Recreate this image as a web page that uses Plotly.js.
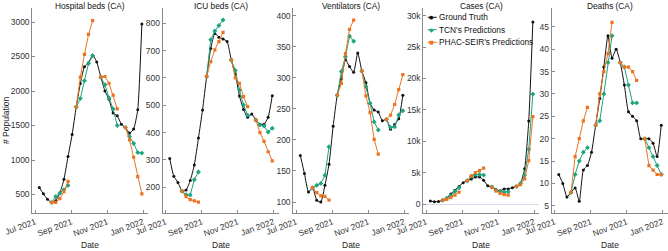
<!DOCTYPE html>
<html><head><meta charset="utf-8">
<script src="https://cdn.plot.ly/plotly-3.0.1.min.js"></script>
<style>html,body{margin:0;padding:0;background:#fff;} #chart{width:668px;height:251px;}</style>
</head><body><div id="chart"></div>
<script>
// ---- data ----
const dates = ['2021-07-08','2021-07-15','2021-07-22','2021-07-29','2021-08-05','2021-08-12','2021-08-19','2021-08-26',
  '2021-09-02','2021-09-09','2021-09-16','2021-09-23','2021-09-30','2021-10-07','2021-10-14','2021-10-21',
  '2021-10-28','2021-11-04','2021-11-11','2021-11-18','2021-11-25','2021-12-02','2021-12-09','2021-12-16',
  '2021-12-23','2021-12-30'];

const hospGT   = [600,510,430,385,410,520,720,1050,1370,1770,2110,2350,2410,2520,2420,2200,2000,1880,1680,1640,1520,1470,1390,1450,1730,2970];
const hospTCN  = [null,null,null,385,470,520,570,630,null,1770,1890,2150,2400,2510,null,2200,2090,1900,1740,1500,null,1470,1340,1240,1110,1100];
const hospPHAC = [null,null,null,385,385,440,540,690,null,1770,2200,2530,2820,3020,null,2200,2210,2110,1940,1740,null,1470,1290,1040,760,510];

const icuGT   = [305,240,218,186,190,225,282,380,483,605,708,763,749,743,733,666,615,534,485,456,468,446,431,431,456,535];
const icuTCN  = [null,null,null,186,173,172,228,256,null,605,740,772,792,812,null,666,627,556,501,464,null,446,428,424,402,416];
const icuPHAC = [null,null,null,186,166,155,150,146,null,605,660,703,733,767,null,666,600,580,532,495,null,446,400,368,330,297];

const ventGT   = [175,146,116,123,103,100,127,161,222,272,298,329,318,309,340,311,292,259,248,245,231,233,217,225,234,272];
const ventTCN  = [null,null,null,123,127,130,143,189,null,272,310,334,367,359,null,311,286,259,229,216,null,233,220,221,240,247];
const ventPHAC = [null,null,null,123,115,110,109,103,null,272,291,339,378,393,null,311,271,244,201,177,null,233,240,257,281,305];

const casesGT   = [480,370,380,600,950,1600,2200,2800,3400,3700,4000,4300,4300,3800,2900,2700,2300,2100,2400,2400,2600,2800,3300,5600,13200,29000];
const casesTCN  = [null,null,null,600,900,1300,2000,2600,null,3700,4400,4700,4700,4600,null,2700,2200,2000,1900,1950,null,2800,3300,4600,8700,17500];
const casesPHAC = [null,null,null,600,750,1000,1400,1900,null,3700,4500,5000,5300,5700,null,2700,2100,1700,1500,1400,null,2800,3100,4000,6900,13900];

const deathsGT   = [12,10,7,8,9,6,13,14,17,23,29,36,43,38,40,37,32,26,25,24,20,20,20,19,16,23];
const deathsTCN  = [null,null,null,8,12,15,17,18,null,23,24,30,37,43,null,37,36,32,28,28,null,20,18,16,14,12];
const deathsPHAC = [null,null,null,8,16,20,24,27,null,23,30,35,39,46,null,37,36,36,35,33,null,20,14,13,12,12];

const titles = ['Hospital beds (CA)','ICU beds (CA)','Ventilators (CA)','Cases (CA)','Deaths (CA)'];
const seriesNames = ['Ground Truth',"TCN's Predictions","PHAC-SEIR's Predictions"];
const xTickVals = ['2021-07-01','2021-09-01','2021-11-01','2022-01-01'];
const xTickText = ['Jul 2021','Sep 2021','Nov 2021','Jan 2022'];
const hospTicks = [500,1000,1500,2000,2500,3000];
const icuTicks = [200,300,400,500,600,700,800];
const ventTicks = [100,150,200,250,300,350,400];
const casesTicks = [0,5000,10000,15000,20000,25000,30000];
const casesTickText = ['0','5k','10k','15k','20k','25k','30k'];
const deathsTicks = [5,10,15,20,25,30,35,40,45];

// ---- layout / style ----
const W = 668, H = 251;
const FONT = 'Liberation Sans, Arial, sans-serif';
const colGT = '#111111', colTCN = '#1fa47f', colPHAC = '#ee7320';
const panelLeft = [32.3, 162.7, 293.3, 423.3, 551.7];
const panelW = 116;
const plotTop = 8, plotBottom = 213;
const yRanges = [[232,3203],[106,856],[82.3,412.4],[-1433,31210],[3.4,49.2]];
const xRange = ['2021-06-26','2022-01-10'];

const panels = [
  [hospGT, hospTCN, hospPHAC, hospTicks, null],
  [icuGT, icuTCN, icuPHAC, icuTicks, null],
  [ventGT, ventTCN, ventPHAC, ventTicks, null],
  [casesGT, casesTCN, casesPHAC, casesTicks, casesTickText],
  [deathsGT, deathsTCN, deathsPHAC, deathsTicks, null]
];

const traces = [];
const layout = {
  width: W, height: H, margin: {l:0, r:0, t:0, b:0},
  paper_bgcolor: '#fff', plot_bgcolor: '#fff',
  showlegend: false,
  font: {family: FONT, size: 8.5, color: '#222'},
  annotations: [], shapes: []
};

panels.forEach((p, k) => {
  const n = k + 1;
  const xa = 'x' + (n === 1 ? '' : n), ya = 'y' + (n === 1 ? '' : n);
  const styles = [
    {color: colGT, sym: 'circle', size: 3, shape: 'spline'},
    {color: colTCN, sym: 'diamond', size: 3.8, shape: 'linear'},
    {color: colPHAC, sym: 'square', size: 3.2, shape: 'linear'}
  ];
  [p[0], p[1], p[2]].forEach((vals, s) => {
    traces.push({
      type: 'scatter', mode: 'lines+markers', x: dates, y: vals, xaxis: xa, yaxis: ya,
      name: seriesNames[s], connectgaps: false, hoverinfo: 'skip',
      line: {color: styles[s].color, width: 1, shape: styles[s].shape, smoothing: 0.5},
      marker: {color: styles[s].color, symbol: styles[s].sym, size: styles[s].size}
    });
  });
  const d0 = panelLeft[k] / W, d1 = (panelLeft[k] + panelW) / W;
  layout['xaxis' + (n === 1 ? '' : n)] = {
    domain: [d0, Math.min(d1, 1)], anchor: ya, type: 'date', range: xRange,
    tickmode: 'array', tickvals: xTickVals, ticktext: xTickText, tickangle: -20,
    showline: true, linecolor: '#8a8a8a', linewidth: 1, ticks: 'inside', ticklen: 3, tickcolor: '#8a8a8a',
    showgrid: false, zeroline: false, tickfont: {family: FONT, size: 8.5, color: '#333'}
  };
  const yax = {
    domain: [1 - plotBottom / H, 1 - plotTop / H], anchor: xa, range: yRanges[k],
    tickmode: 'array', tickvals: p[3],
    showline: true, linecolor: '#8a8a8a', linewidth: 1, ticks: 'inside', ticklen: 3, tickcolor: '#8a8a8a',
    showgrid: false, zeroline: k === 3, zerolinecolor: '#dcdcf0', zerolinewidth: 1,
    tickfont: {family: FONT, size: 8.5, color: '#333'}
  };
  if (p[4]) yax.ticktext = p[4];
  layout['yaxis' + (n === 1 ? '' : n)] = yax;
  const cx = (panelLeft[k] + panelW / 2) / W;
  layout.annotations.push({text: titles[k], x: cx, y: 1, xref: 'paper', yref: 'paper',
    xanchor: 'center', yanchor: 'top', borderpad: 0, showarrow: false, font: {family: FONT, size: 8.3, color: '#111'}});
  layout.annotations.push({text: 'Date', x: cx, y: 1 - 245 / H, xref: 'paper', yref: 'paper',
    xanchor: 'center', yanchor: 'middle', showarrow: false, font: {family: FONT, size: 8.5, color: '#222'}});
});

layout.annotations.push({text: '# Population', x: 6 / W, y: 1 - 120 / H, xref: 'paper', yref: 'paper',
  xanchor: 'center', yanchor: 'middle', textangle: -90, showarrow: false, font: {family: FONT, size: 8.5, color: '#222'}});

// legend (inside Cases panel)
const legRows = [17.3, 29.7, 42.3];
const legCols = [colGT, colTCN, colPHAC];
const legSyms = ['\u25CF', '\u25C6', '\u25A0'];
const legSymSize = [5, 6, 5];
legRows.forEach((ry, i) => {
  layout.shapes.push({type: 'line', xref: 'paper', yref: 'paper', x0: 427.7 / W, x1: 436.7 / W,
    y0: 1 - ry / H, y1: 1 - ry / H, line: {color: legCols[i], width: 1}});
  layout.annotations.push({text: legSyms[i], x: 431 / W, y: 1 - ry / H, xref: 'paper', yref: 'paper',
    xanchor: 'center', yanchor: 'middle', showarrow: false, font: {family: 'DejaVu Sans', size: legSymSize[i], color: legCols[i]}});
  layout.annotations.push({text: seriesNames[i], x: 436.5 / W, y: 1 - ry / H, xref: 'paper', yref: 'paper',
    xanchor: 'left', yanchor: 'middle', showarrow: false, font: {family: FONT, size: 8.3, color: '#111'}});
});

Plotly.newPlot('chart', traces, layout, {staticPlot: true, displayModeBar: false});
</script>
</body></html>
